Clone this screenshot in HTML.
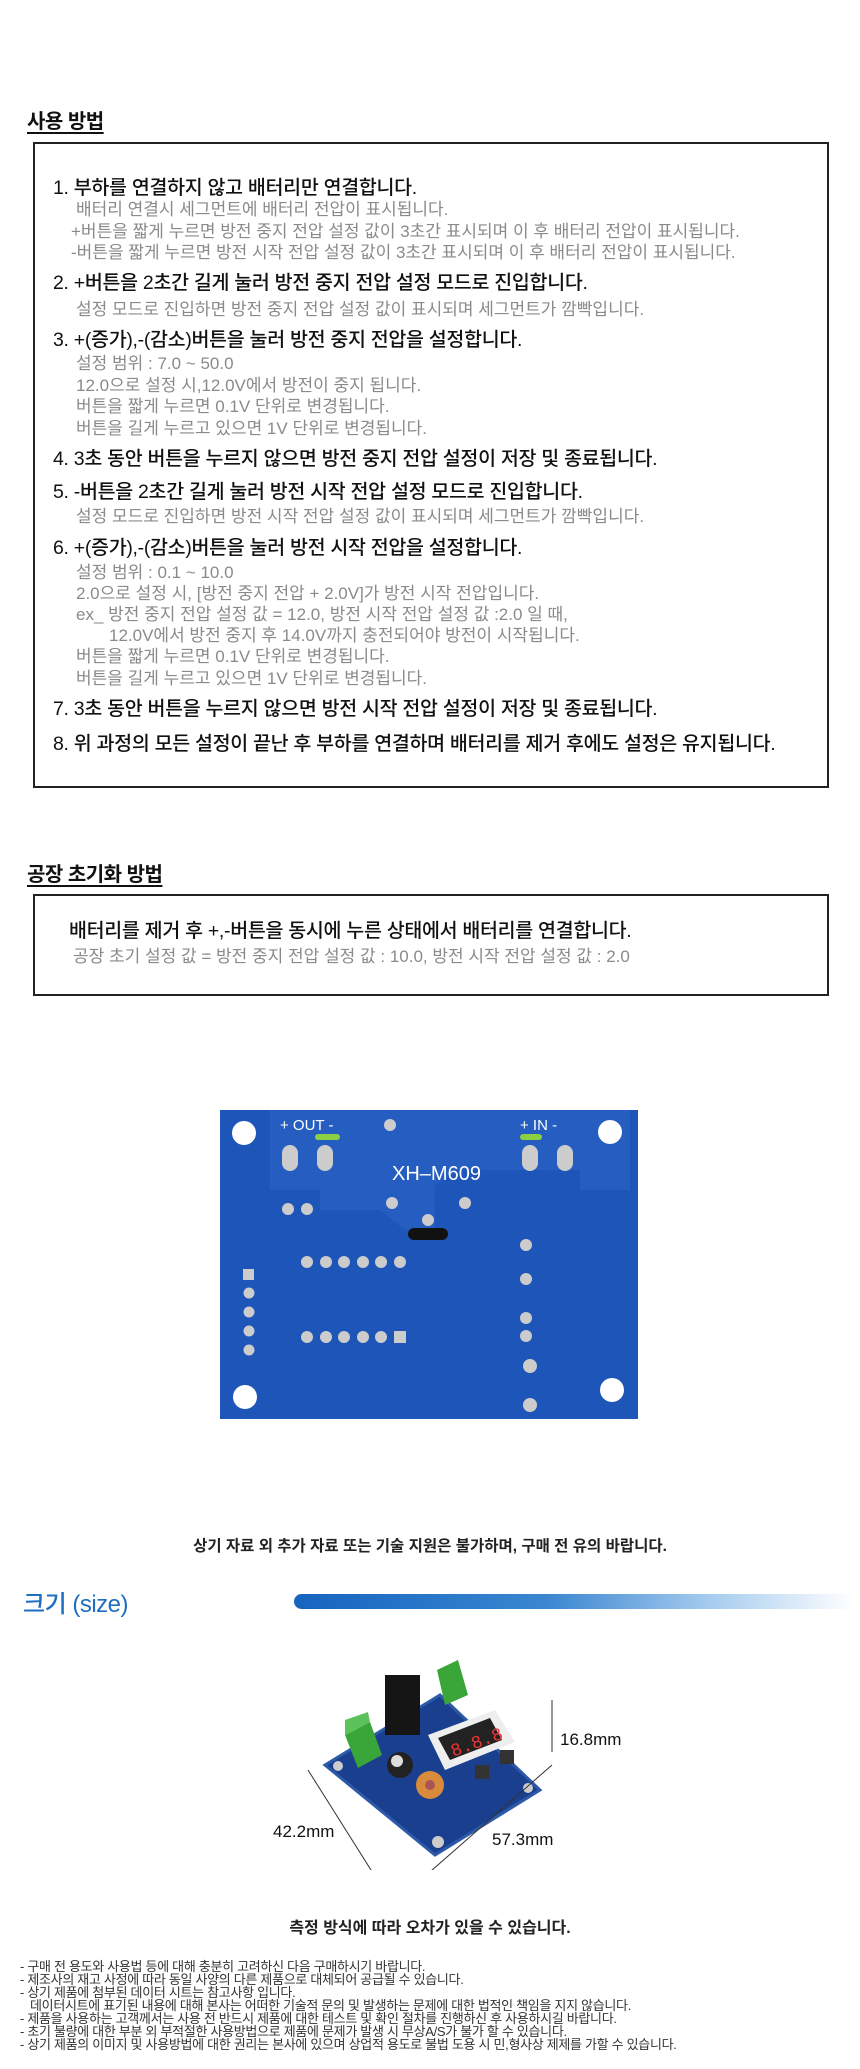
<!DOCTYPE html>
<html><head><meta charset="utf-8"><style>
*{margin:0;padding:0;box-sizing:border-box}
body{width:860px;height:2069px;background:#fff;position:relative;overflow:hidden;font-family:"Liberation Sans","Noto Sans CJK KR",sans-serif}
.a{position:absolute;white-space:nowrap}
.h{font-size:20px;font-weight:bold;color:#111;text-decoration:underline;text-underline-offset:4px;text-decoration-thickness:2px;letter-spacing:-0.5px}
.m{font-size:19.5px;font-weight:500;color:#111;letter-spacing:-0.3px;line-height:24px}
.s{font-size:17px;color:#8a8a8a;letter-spacing:0px;line-height:20px}
.box{position:absolute;border:2px solid #222}
.f{font-size:13px;color:#333;letter-spacing:-0.3px;line-height:14px}
</style></head><body>
<div class="a h" style="left:27px;top:105px">사용 방법</div>
<div class="box" style="left:33px;top:142px;width:796px;height:646px"></div>
<div class="a m" style="left:53px;top:176px">1. 부하를 연결하지 않고 배터리만 연결합니다.</div>
<div class="a s" style="left:76px;top:200px">배터리 연결시 세그먼트에 배터리 전압이 표시됩니다.</div>
<div class="a s" style="left:71px;top:222px">+버튼을 짧게 누르면 방전 중지 전압 설정 값이 3초간 표시되며 이 후 배터리 전압이 표시됩니다.</div>
<div class="a s" style="left:71px;top:243px">-버튼을 짧게 누르면 방전 시작 전압 설정 값이 3초간 표시되며 이 후 배터리 전압이 표시됩니다.</div>
<div class="a m" style="left:53px;top:271px">2. +버튼을 2초간 길게 눌러 방전 중지 전압 설정 모드로 진입합니다.</div>
<div class="a s" style="left:76px;top:300px">설정 모드로 진입하면 방전 중지 전압 설정 값이 표시되며 세그먼트가 깜빡입니다.</div>
<div class="a m" style="left:53px;top:328px">3. +(증가),-(감소)버튼을 눌러 방전 중지 전압을 설정합니다.</div>
<div class="a s" style="left:76px;top:354px">설정 범위 : 7.0 ~ 50.0</div>
<div class="a s" style="left:76px;top:376px">12.0으로 설정 시,12.0V에서 방전이 중지 됩니다.</div>
<div class="a s" style="left:76px;top:397px">버튼을 짧게 누르면 0.1V 단위로 변경됩니다.</div>
<div class="a s" style="left:76px;top:419px">버튼을 길게 누르고 있으면 1V 단위로 변경됩니다.</div>
<div class="a m" style="left:53px;top:447px">4. 3초 동안 버튼을 누르지 않으면 방전 중지 전압 설정이 저장 및 종료됩니다.</div>
<div class="a m" style="left:53px;top:480px">5. -버튼을 2초간 길게 눌러 방전 시작 전압 설정 모드로 진입합니다.</div>
<div class="a s" style="left:76px;top:507px">설정 모드로 진입하면 방전 시작 전압 설정 값이 표시되며 세그먼트가 깜빡입니다.</div>
<div class="a m" style="left:53px;top:536px">6. +(증가),-(감소)버튼을 눌러 방전 시작 전압을 설정합니다.</div>
<div class="a s" style="left:76px;top:563px">설정 범위 : 0.1 ~ 10.0</div>
<div class="a s" style="left:76px;top:584px">2.0으로 설정 시, [방전 중지 전압 + 2.0V]가 방전 시작 전압입니다.</div>
<div class="a s" style="left:76px;top:605px">ex_ 방전 중지 전압 설정 값 = 12.0, 방전 시작 전압 설정 값 :2.0 일 때,</div>
<div class="a s" style="left:109px;top:626px">12.0V에서 방전 중지 후 14.0V까지 충전되어야 방전이 시작됩니다.</div>
<div class="a s" style="left:76px;top:647px">버튼을 짧게 누르면 0.1V 단위로 변경됩니다.</div>
<div class="a s" style="left:76px;top:669px">버튼을 길게 누르고 있으면 1V 단위로 변경됩니다.</div>
<div class="a m" style="left:53px;top:697px">7. 3초 동안 버튼을 누르지 않으면 방전 시작 전압 설정이 저장 및 종료됩니다.</div>
<div class="a m" style="left:53px;top:732px">8. 위 과정의 모든 설정이 끝난 후 부하를 연결하며 배터리를 제거 후에도 설정은 유지됩니다.</div>

<div class="a h" style="left:27px;top:858px">공장 초기화 방법</div>
<div class="box" style="left:33px;top:894px;width:796px;height:102px"></div>
<div class="a m" style="left:69px;top:919px">배터리를 제거 후 +,-버튼을 동시에 누른 상태에서 배터리를 연결합니다.</div>
<div class="a s" style="left:73px;top:947px">공장 초기 설정 값 = 방전 중지 전압 설정 값 : 10.0, 방전 시작 전압 설정 값 : 2.0</div>

<svg class="a" style="left:220px;top:1110px" width="420" height="310" viewBox="0 0 420 310">
<rect x="0" y="0" width="418" height="309" fill="#1e55b8"/>
<path d="M50 0 H410 V80 H360 V60 H240 L215 75 V120 H185 L160 100 H100 V80 H50 Z" fill="#2a62c6" opacity=".6"/>
<circle cx="24" cy="23" r="12" fill="#fff"/><circle cx="390" cy="22" r="12" fill="#fff"/>
<circle cx="25" cy="287" r="12" fill="#fff"/><circle cx="392" cy="280" r="12" fill="#fff"/>
<text x="60" y="20" fill="#fff" font-size="15" font-family="Liberation Sans">+ OUT -</text>
<text x="300" y="20" fill="#fff" font-size="15" font-family="Liberation Sans">+ IN -</text>
<text x="172" y="70" fill="#fff" font-size="20" font-family="Liberation Sans">XH–M609</text>
<rect x="95" y="24" width="25" height="6" rx="3" fill="#8ad040"/><rect x="300" y="24" width="22" height="6" rx="3" fill="#8ad040"/>
<rect x="62" y="35" width="16" height="26" rx="8" fill="#ccc"/><rect x="97" y="35" width="16" height="26" rx="8" fill="#ccc"/>
<rect x="302" y="35" width="16" height="26" rx="8" fill="#ccc"/><rect x="337" y="35" width="16" height="26" rx="8" fill="#ccc"/>
<rect x="188" y="118" width="40" height="12" rx="6" fill="#111"/>
<g fill="#ccc"><circle cx="170" cy="15" r="6"/><circle cx="68" cy="99" r="6"/><circle cx="87" cy="99" r="6"/><circle cx="172" cy="93" r="6"/><circle cx="245" cy="93" r="6"/><circle cx="208" cy="110" r="6"/>
<circle cx="87" cy="152" r="6"/><circle cx="106" cy="152" r="6"/><circle cx="124" cy="152" r="6"/><circle cx="143" cy="152" r="6"/><circle cx="161" cy="152" r="6"/><circle cx="180" cy="152" r="6"/>
<circle cx="87" cy="227" r="6"/><circle cx="106" cy="227" r="6"/><circle cx="124" cy="227" r="6"/><circle cx="143" cy="227" r="6"/><circle cx="161" cy="227" r="6"/><rect x="174" y="221" width="12" height="12"/>
<rect x="23" y="159" width="11" height="11"/><circle cx="29" cy="183" r="5.5"/><circle cx="29" cy="202" r="5.5"/><circle cx="29" cy="221" r="5.5"/><circle cx="29" cy="240" r="5.5"/>
<circle cx="306" cy="135" r="6"/><circle cx="306" cy="169" r="6"/><circle cx="306" cy="208" r="6"/><circle cx="306" cy="226" r="6"/><circle cx="310" cy="256" r="7"/><circle cx="310" cy="295" r="7"/></g>
</svg>

<div class="a" style="left:0;width:860px;text-align:center;top:1534px;font-size:15.5px;font-weight:bold;color:#222;letter-spacing:0px">상기 자료 외 추가 자료 또는 기술 지원은 불가하며, 구매 전 유의 바랍니다.</div>
<div class="a" style="left:23px;top:1584px;font-size:24px;color:#1e6fc2;font-weight:500;letter-spacing:-0.5px">크기 (size)</div>
<div class="a" style="left:294px;top:1594px;width:560px;height:15px;border-radius:8px 0 0 8px;background:linear-gradient(90deg,#1565c0 0%,#3a86d0 45%,#a8cdef 75%,#fff 100%)"></div>

<svg class="a" style="left:290px;top:1650px" width="300" height="220" viewBox="0 0 300 220">
<polygon points="35,115 150,45 250,140 145,205" fill="#1a3f8f"/>
<polygon points="35,115 150,45 250,140 145,205" fill="none" stroke="#2d5aa8" stroke-width="3"/>
<rect x="95" y="25" width="35" height="60" fill="#151515"/>
<polygon points="55,85 80,72 92,105 68,118" fill="#3aa63a"/><polygon points="55,70 78,62 80,72 55,85" fill="#5cc25c"/>
<polygon points="147,20 168,10 178,45 155,55" fill="#3aa63a"/>
<polygon points="138,85 205,60 225,92 155,120" fill="#eee"/>
<polygon points="148,88 200,68 212,90 160,110" fill="#222"/>
<text x="160" y="102" fill="#e33" font-size="18" font-family="Liberation Mono" transform="rotate(-20 175 95)">8.8.8</text>
<circle cx="110" cy="115" r="13" fill="#222"/><circle cx="107" cy="111" r="6" fill="#ddd"/>
<circle cx="140" cy="135" r="14" fill="#d88b3a"/><circle cx="140" cy="135" r="5" fill="#a55"/>
<rect x="185" y="115" width="14" height="14" fill="#333"/><rect x="210" y="100" width="14" height="14" fill="#333"/>
<circle cx="148" cy="192" r="6" fill="#ccc"/><circle cx="48" cy="116" r="5" fill="#ccc"/><circle cx="238" cy="138" r="5" fill="#ccc"/>
<line x1="262" y1="50" x2="262" y2="102" stroke="#333" stroke-width="1"/>
<line x1="18" y1="120" x2="98" y2="247" stroke="#333"/>
<line x1="262" y1="115" x2="125" y2="235" stroke="#333"/>
</svg>
<div class="a" style="left:560px;top:1730px;font-size:17px;color:#111">16.8mm</div>
<div class="a" style="left:273px;top:1822px;font-size:17px;color:#111">42.2mm</div>
<div class="a" style="left:492px;top:1830px;font-size:17px;color:#111">57.3mm</div>

<div class="a" style="left:0;width:860px;text-align:center;top:1914px;font-size:16px;font-weight:bold;color:#222;letter-spacing:0px">측정 방식에 따라 오차가 있을 수 있습니다.</div>
<div class="a f" style="left:20px;top:1960px">- 구매 전 용도와 사용법 등에 대해 충분히 고려하신 다음 구매하시기 바랍니다.</div>
<div class="a f" style="left:20px;top:1973px">- 제조사의 재고 사정에 따라 동일 사양의 다른 제품으로 대체되어 공급될 수 있습니다.</div>
<div class="a f" style="left:20px;top:1986px">- 상기 제품에 첨부된 데이터 시트는 참고사항 입니다.</div>
<div class="a f" style="left:30px;top:1999px">데이터시트에 표기된 내용에 대해 본사는 어떠한 기술적 문의 및 발생하는 문제에 대한 법적인 책임을 지지 않습니다.</div>
<div class="a f" style="left:20px;top:2012px">- 제품을 사용하는 고객께서는 사용 전 반드시 제품에 대한 테스트 및 확인 절차를 진행하신 후 사용하시길 바랍니다.</div>
<div class="a f" style="left:20px;top:2025px">- 초기 불량에 대한 부분 외 부적절한 사용방법으로 제품에 문제가 발생 시 무상A/S가 불가 할 수 있습니다.</div>
<div class="a f" style="left:20px;top:2038px">- 상기 제품의 이미지 및 사용방법에 대한 권리는 본사에 있으며 상업적 용도로 불법 도용 시 민,형사상 제제를 가할 수 있습니다.</div>
</body></html>
